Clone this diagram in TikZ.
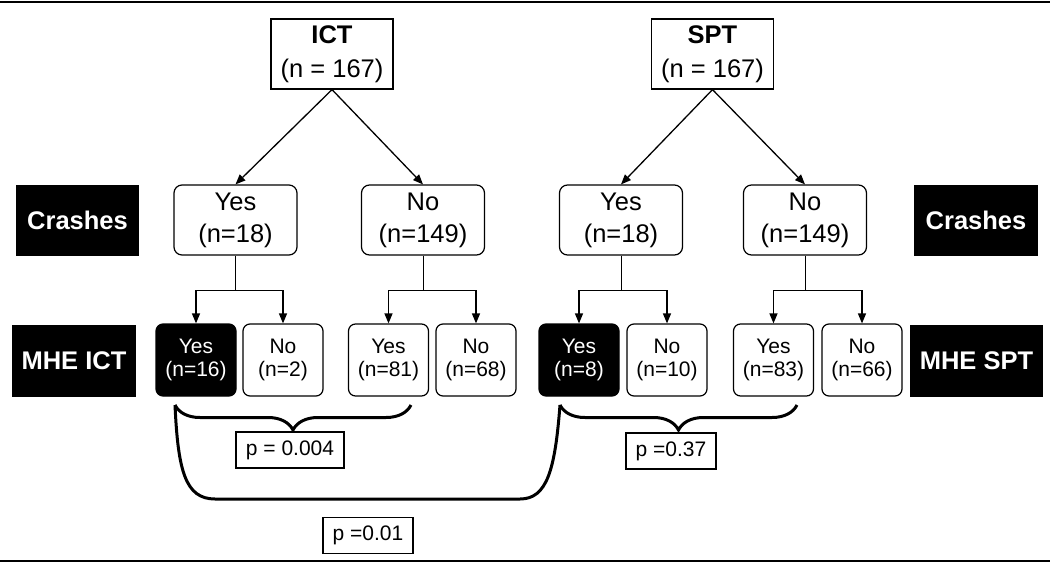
\documentclass[tikz,border=0pt]{standalone}
\usepackage{fontspec}
\setmainfont{Liberation Sans}
\usetikzlibrary{arrows.meta,positioning,calc,decorations.pathreplacing}
\tikzset{
  rootbox/.style={
    draw,
    line width=1.2pt,
    align=center,
    minimum width=122pt,
    minimum height=70pt,
    inner sep=0pt,
    font=\fontsize{25.5}{34}\selectfont
  },
  crashbox/.style={
    draw,
    line width=1.2pt,
    rounded corners=8pt,
    align=center,
    minimum width=123pt,
    minimum height=70pt,
    inner sep=0pt,
    font=\fontsize{25.5}{32}\selectfont
  },
  mhebox/.style={
    draw,
    line width=1.2pt,
    rounded corners=7pt,
    align=center,
    minimum width=80pt,
    minimum height=72pt,
    inner sep=0pt,
    font=\fontsize{21}{23}\selectfont
  },
  mhedark/.style={
    mhebox,
    fill=black,
    text=white
  },
  rowlabel/.style={
    fill=black,
    text=white,
    minimum width=123pt,
    minimum height=71pt,
    inner sep=0pt,
    font=\fontsize{25.5}{28}\selectfont\bfseries
  },
  pbox/.style={
    draw,
    line width=1.1pt,
    minimum height=36pt,
    inner sep=0pt,
    font=\fontsize{21}{24}\selectfont
  },
  arrow/.style={-{Triangle[length=10pt,width=8pt]}, line width=1.3pt},
  stem/.style={line width=0.9pt},
  bracket/.style={
    decorate,
    decoration={brace, mirror, amplitude=25pt},
    line width=3pt
  },
  bigbracket/.style={line width=3pt}
}

\begin{document}
\begin{tikzpicture}[x=1pt, y=-1pt]

\useasboundingbox (0,0) rectangle (1050,563);

% --- frame rules
\draw[line width=2pt] (0,1.5) -- (1050,1.5);
\draw[line width=2pt] (0,561) -- (1050,561);

% --- Top row: tests
\node[rootbox] (ict) at (332,54) {\textbf{ICT}\\(n = 167)};
\node[rootbox] (spt) at (712.5,54) {\textbf{SPT}\\(n = 167)};

% --- Row labels
\node[rowlabel] (crashl) at (77.5,220.5) {Crashes};
\node[rowlabel, minimum width=124pt, minimum height=72pt] (mheict) at (74,361) {MHE ICT};
\node[rowlabel, minimum width=124pt] (crashr) at (976,220.5) {Crashes};
\node[rowlabel, minimum width=133pt, minimum height=72pt] (mhespt) at (976.5,361) {MHE SPT};

% --- Middle: crashes
\node[crashbox] (icty) at (235.5,220) {Yes\\(n=18)};
\node[crashbox] (ictn) at (423,220) {No\\(n=149)};
\node[crashbox] (spty) at (621,220) {Yes\\(n=18)};
\node[crashbox] (sptn) at (805,220) {No\\(n=149)};

% --- Bottom: MHE outcomes
\node[mhedark] (ictyy) at (196,360) {Yes\\(n=16)};
\node[mhebox] (ictyn) at (283,360) {No\\(n=2)};
\node[mhebox] (ictny) at (388.5,360) {Yes\\(n=81)};
\node[mhebox] (ictnn) at (476,360) {No\\(n=68)};
\node[mhedark] (sptyy) at (579,360) {Yes\\(n=8)};
\node[mhebox] (sptyn) at (667,360) {No\\(n=10)};
\node[mhebox] (sptny) at (773.5,360) {Yes\\(n=83)};
\node[mhebox] (sptnn) at (862,360) {No\\(n=66)};

% --- p values
\node[pbox, minimum width=108pt] (p1) at (290,450) {p = 0.004};
\node[pbox, minimum width=90pt] (p2) at (671,451) {p =0.37};
\node[pbox, minimum width=90pt] (p3) at (368,535.5) {p =0.01};

% --- Arrows
\draw[arrow] (ict.south) -- (icty.north);
\draw[arrow] (ict.south) -- (ictn.north);
\draw[arrow] (spt.south) -- (spty.north);
\draw[arrow] (spt.south) -- (sptn.north);

\draw[stem] (icty.south) -- ++(0,35) coordinate (jiy);
\draw[stem] (ictn.south) -- ++(0,35) coordinate (jin);
\draw[stem] (spty.south) -- ++(0,35) coordinate (jsy);
\draw[stem] (sptn.south) -- ++(0,35) coordinate (jsn);

\draw[arrow] (jiy) -| (ictyy.north);
\draw[arrow] (jiy) -| (ictyn.north);
\draw[arrow] (jin) -| (ictny.north);
\draw[arrow] (jin) -| (ictnn.north);
\draw[arrow] (jsy) -| (sptyy.north);
\draw[arrow] (jsy) -| (sptyn.north);
\draw[arrow] (jsn) -| (sptny.north);
\draw[arrow] (jsn) -| (sptnn.north);

% --- Brackets
\coordinate (b1l) at (175,405);
\coordinate (b1r) at (411,405);
\coordinate (b2l) at (560,405);
\coordinate (b2r) at (797,405);
\draw[bracket] (b1l) -- (b1r);
\draw[bracket] (b2l) -- (b2r);

\draw[bigbracket] (b1l) .. controls (178,470) and (185,499) .. (215,499)
  -- (520,499) .. controls (547,499) and (555,470) .. (b2l);

\end{tikzpicture}
\end{document}
